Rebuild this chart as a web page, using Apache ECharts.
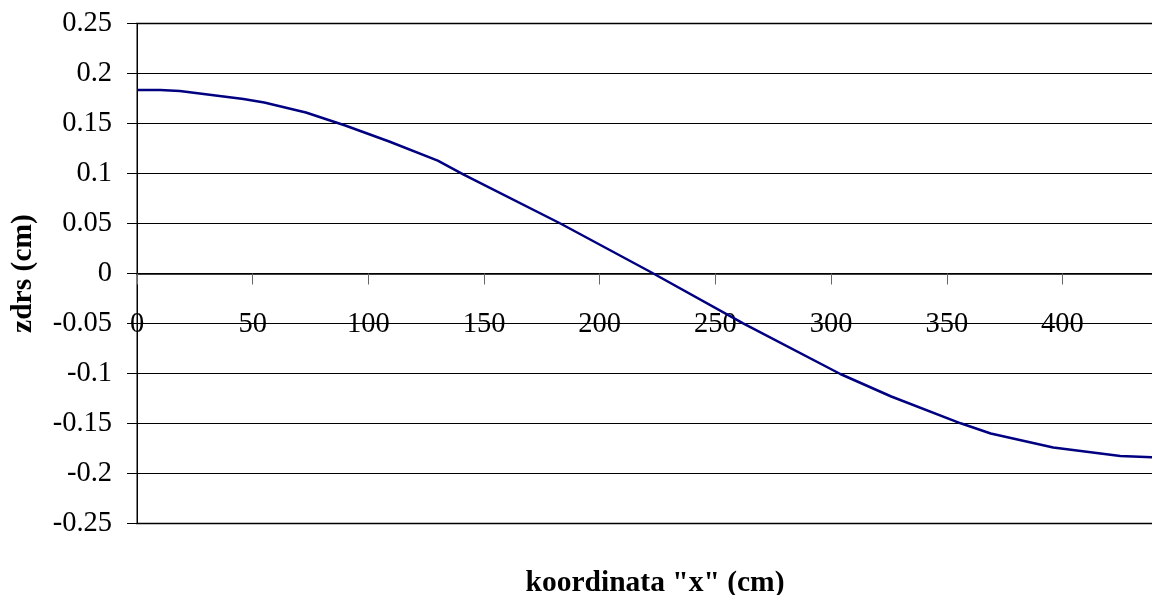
<!DOCTYPE html>
<html>
<head>
<meta charset="utf-8">
<script src="https://cdn.jsdelivr.net/npm/echarts@6/dist/echarts.min.js"></script>
<style>
html,body{margin:0;padding:0;background:#fff;}
#chart{width:1152px;height:595px;}
</style>
</head>
<body>
<div id="chart"></div>
<script>
// Data
const xValues = [0, 10, 18.5, 46, 55, 73, 90, 109, 130, 141, 183, 222, 262, 304, 326, 356, 369, 396, 425, 440];
const yValues = [0.1835, 0.1835, 0.1825, 0.1745, 0.171, 0.161, 0.148, 0.132, 0.1128, 0.0992, 0.050, 0.0015, -0.0498, -0.1005, -0.123, -0.1498, -0.160, -0.174, -0.1825, -0.1838];
const xAxisTitle = 'koordinata "x" (cm)';
const yAxisTitle = 'zdrs (cm)';

const FONT = '"Liberation Serif", "Times New Roman", serif';
const seriesData = xValues.map((x, i) => [x, yValues[i]]);

const chart = echarts.init(document.getElementById('chart'), null, {renderer: 'canvas'});
chart.setOption({
  animation: false,
  backgroundColor: '#fff',
  title: {
    text: xAxisTitle,
    left: 650, top: 563, textAlign: 'center',
    textStyle: {fontFamily: FONT, fontWeight: 'bold', fontSize: 29.5, color: '#000'}
  },
  grid: {
    left: 137, top: 23.5, width: 1018, height: 500,
    containLabel: false, outerBoundsMode: 'none',
    show: true, borderColor: '#808080', borderWidth: 2, backgroundColor: 'transparent'
  },
  xAxis: {
    type: 'value', min: 0, max: 440, interval: 50,
    position: 'bottom', offset: -250,
    axisLine: {show: true, onZero: false, lineStyle: {color: '#000', width: 1.5}},
    axisTick: {show: true, inside: false, length: 11, lineStyle: {color: '#666', width: 1}},
    axisLabel: {show: true, margin: 37, showMaxLabel: false, fontFamily: FONT, fontSize: 28.5, color: '#000'},
    splitLine: {show: false}
  },
  yAxis: {
    type: 'value', min: -0.25, max: 0.25, interval: 0.05,
    name: yAxisTitle, nameLocation: 'middle', nameGap: 99, nameRotate: 90,
    nameTextStyle: {fontFamily: FONT, fontWeight: 'bold', fontSize: 29.5, color: '#000'},
    axisLine: {show: true, onZero: false, lineStyle: {color: '#000', width: 1}},
    axisTick: {show: true, inside: false, length: 10, lineStyle: {color: '#000', width: 1}},
    axisLabel: {
      margin: 25, fontFamily: FONT, fontSize: 28.5, color: '#000',
      formatter: v => String(Math.round(v * 100) / 100)
    },
    splitLine: {show: true, lineStyle: {color: '#000', width: 1}}
  },
  series: [{
    type: 'line',
    data: seriesData,
    showSymbol: false,
    symbol: 'none',
    smooth: false,
    lineStyle: {color: '#000080', width: 2.5},
    z: 5
  }]
});
</script>
</body>
</html>
